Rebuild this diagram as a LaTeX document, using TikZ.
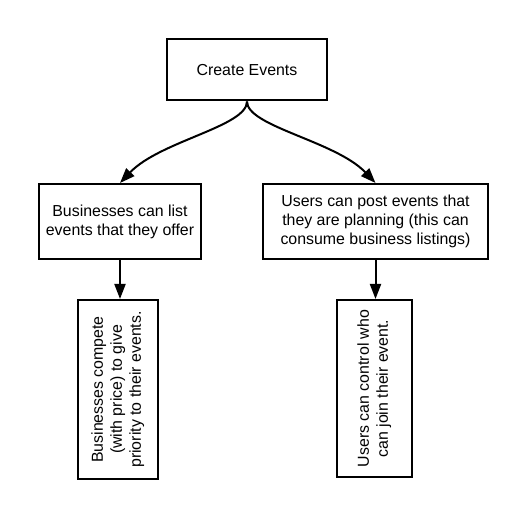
\documentclass[tikz,border=0pt]{standalone}
\usepackage{fontspec}
\setmainfont{Liberation Sans}
\usetikzlibrary{arrows.meta}

\begin{document}
\begin{tikzpicture}[x=1pt, y=1pt,
    box/.style={draw, line width=2pt, align=center, inner sep=0pt,
      font=\fontsize{15.9}{19}\selectfont},
    link/.style={line width=2pt, -{Triangle[length=15pt, width=11pt]}}]
  \useasboundingbox (0,0) rectangle (528,519);

  % top and second row
  \node[box, minimum width=160, minimum height=61] (create) at (247,449) {Create Events};
  \node[box, minimum width=162, minimum height=75] (biz) at (120,297.5)
    {Businesses can list\\events that they offer};
  \node[box, minimum width=225, minimum height=75] (users) at (375.5,297.5)
    {Users can post events that\\they are planning (this can\\consume business listings)};

  % bottom row, text turned upright
  \node[box, minimum width=80, minimum height=179] (compete) at (118,129.5)
    {\rotatebox{90}{\begin{tabular}{@{}c@{}}Businesses compete\\(with price) to give\\priority to their events.\end{tabular}}};
  \node[box, minimum width=75, minimum height=177] (control) at (374.5,130.5)
    {\rotatebox{90}{\begin{tabular}{@{}c@{}}Users can control who\\can join their event.\end{tabular}}};

  \draw[link] (create.south) .. controls +(0,-25) and +(40,42) .. (biz.north);
  \draw[link] (create.south) .. controls +(0,-25) and +(-40,42) .. (users.north);
  \draw[link] (biz.south) -- (biz.south |- compete.north);
  \draw[link] (users.south) -- (users.south |- control.north);
\end{tikzpicture}
\end{document}
